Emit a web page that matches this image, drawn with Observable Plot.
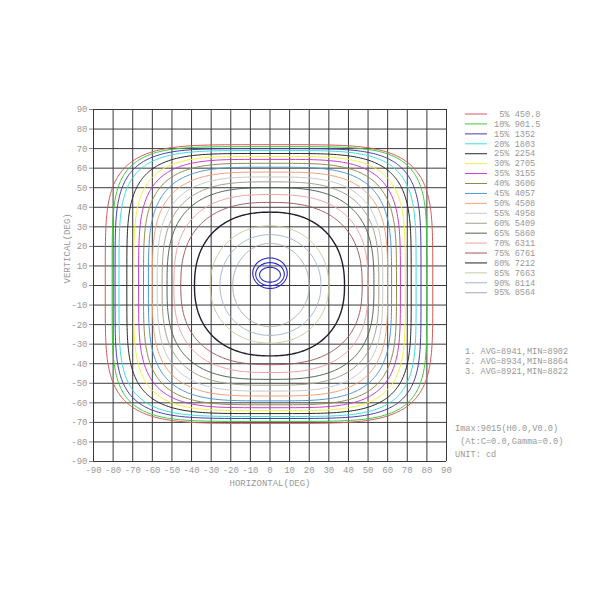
<!DOCTYPE html>
<html>
<head>
<meta charset="utf-8">
<script src="https://cdn.jsdelivr.net/npm/d3@7"></script>
<script src="https://cdn.jsdelivr.net/npm/@observablehq/plot@0.6"></script>
<style>
  html, body { margin: 0; padding: 0; background: #fff; }
  #chart { width: 600px; height: 600px; }
</style>
</head>
<body>
<div id="chart"></div>
<script>
// ---- data ----
const percents = ["5%","10%","15%","20%","25%","30%","35%","40%","45%","50%","55%","60%","65%","70%","75%","80%","85%","90%","95%"];
const candela  = ["450.8","901.5","1352","1803","2254","2705","3155","3606","4057","4508","4958","5409","5860","6311","6761","7212","7663","8114","8564"];
// contour extents (degrees) read at the axes
const leftExt   = [-84,-80.5,-79,-77,-73,-69.5,-67,-64.5,-62,-60,-57.5,-55,-52.5,-49,-45.5,-38.5,-30.5,-25.5,-19];
const rightExt  = [83,80,77,74.5,72,69,66.5,64.5,62,60,57.5,55.5,53,50,47,38,30,26,20];
const topExt    = [72,71,70,69,67.5,66,64.5,62.5,60.5,58,55.5,53,50,46.5,42.5,37.5,30.5,26,21.5];
const bottomExt = [-70.5,-69.5,-68,-67,-65.5,-64,-62.5,-61,-59,-56.5,-54,-51,-48,-44.5,-40.5,-36,-29.5,-25.5,-21];
// squareness of each contour (rounded-square exponent read from its corner)
const squareness = [4.6,5,4.8,4.6,4.4,4.3,4.1,3.9,3.7,3.5,3.3,3.1,2.9,2.7,2.5,2.3,2.1,2.05,2];
// measurement rings at the centre
const ringCx = [0,0,0];
const ringCy = [5.5,5.8,6.3];
const ringRx = [5.3,7.3,8.8];
const ringRy = [3.8,5.9,7.8];
const ringFloor = [-90,-90,-1.5];
const gridTicks = [-90,-80,-70,-60,-50,-40,-30,-20,-10,0,10,20,30,40,50,60,70,80,90];
const avgLines = ["1. AVG=8941,MIN=8902","2. AVG=8934,MIN=8864","3. AVG=8921,MIN=8822"];
const infoLines = ["Imax:9015(H0.0,V0.0)"," (At:C=0.0,Gamma=0.0)","UNIT: cd"];

const colors = ["#d45a5a","#3cc83c","#4a3caa","#3cdcdc","#282828","#f2f23c","#c83cc8","#8c8c50","#5096d2","#f0a078",
                "#c8c8c8","#a0a08c","#506450","#f0a0a0","#a05a5a","#202030","#c8c8a0","#a0b4c8","#aaaaaa"];

// outline of each contour from its read extents
function contourOutline(i) {
  const pts = [];
  const N = 360, e = 2 / squareness[i];
  for (let k = 0; k <= N; k++) {
    const th = 2 * Math.PI * k / N, c = Math.cos(th), s = Math.sin(th);
    const ax = c >= 0 ? rightExt[i] : -leftExt[i];
    const ay = s >= 0 ? topExt[i] : -bottomExt[i];
    pts.push({x: ax * Math.sign(c) * Math.pow(Math.abs(c), e), y: ay * Math.sign(s) * Math.pow(Math.abs(s), e)});
  }
  return pts;
}
function ringOutline(j) {
  const pts = [];
  const N = 120;
  for (let k = 0; k <= N; k++) {
    const th = 2 * Math.PI * k / N;
    pts.push({x: ringCx[j] + ringRx[j] * Math.cos(th), y: Math.max(ringFloor[j], ringCy[j] + ringRy[j] * Math.sin(th))});
  }
  return pts;
}

const marks = [
  Plot.ruleX(gridTicks, {stroke: "#3a3a3a", strokeWidth: 1}),
  Plot.ruleY(gridTicks, {stroke: "#3a3a3a", strokeWidth: 1}),
];
percents.forEach((p, i) => {
  marks.push(Plot.line(contourOutline(i), {x: "x", y: "y", stroke: colors[i], strokeWidth: i === 15 ? 1.4 : 1}));
});
ringCx.forEach((_, j) => {
  marks.push(Plot.line(ringOutline(j), {x: "x", y: "y", stroke: "#2828c8", strokeWidth: 1.1}));
});
marks.push(
  Plot.axisY(gridTicks, {tickSize: 4, tickPadding: 2, tickFormat: d => String(d), stroke: "#888", fill: "#999", label: null}),
  Plot.axisX(gridTicks, {tickSize: 0, tickPadding: 5, tickFormat: d => String(d), fill: "#999", label: null}),
  Plot.text(["HORIZONTAL(DEG)"], {frameAnchor: "bottom", dy: 24, fill: "#999", fontSize: 9}),
  Plot.text(["VERTICAL(DEG)"], {frameAnchor: "left", dx: -26, dy: -2, rotate: -90, fill: "#999", fontSize: 9})
);

const chart = Plot.plot({
  width: 600, height: 600,
  marginLeft: 93, marginRight: 154, marginTop: 109, marginBottom: 139,
  x: {domain: [-90, 90], label: null},
  y: {domain: [-90, 90], label: null},
  style: {fontFamily: "'Liberation Mono', monospace", fontSize: "9px", color: "#999", background: "#fff"},
  marks
});
document.getElementById("chart").appendChild(chart);

// legend and annotations on the right
const svg = d3.select(chart);
const g = svg.append("g").attr("font-family", "'Liberation Mono', monospace").attr("font-size", 8.6)
  .attr("fill", "#999").attr("text-anchor", "start");
percents.forEach((p, i) => {
  const y = 114 + i * 9.93;
  g.append("line").attr("x1", 465).attr("x2", 487).attr("y1", y).attr("y2", y).attr("stroke", colors[i]).attr("stroke-width", 1);
  g.append("text").attr("x", 494).attr("y", y).attr("dy", "0.32em").attr("text-anchor", "start").style("white-space", "pre")
    .text(p.padStart(3, " ") + " " + candela[i]);
});
avgLines.forEach((t, i) => {
  g.append("text").attr("x", 465).attr("y", 351 + i * 10).attr("dy", "0.32em").attr("text-anchor", "start").style("white-space", "pre").text(t);
});
infoLines.forEach((t, i) => {
  g.append("text").attr("x", 455).attr("y", 428 + i * 13).attr("dy", "0.32em").attr("text-anchor", "start").style("white-space", "pre").text(t);
});
</script>
</body>
</html>
